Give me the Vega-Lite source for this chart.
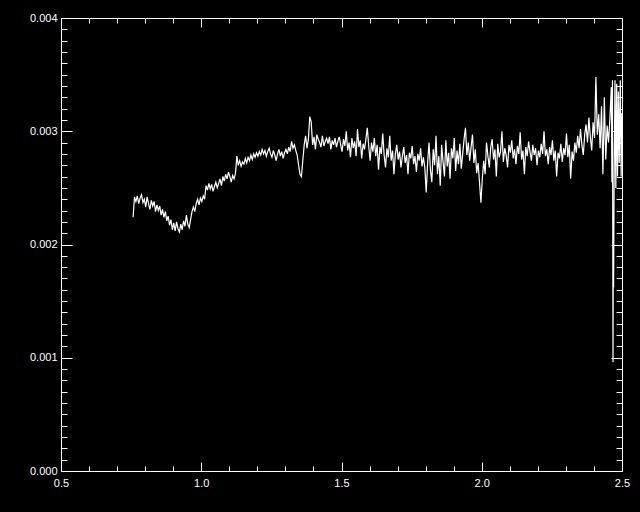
{
  "$schema": "https://vega.github.io/schema/vega-lite/v6.json",
  "width": 561,
  "height": 453,
  "autosize": "none",
  "padding": {"left": 61, "top": 18, "right": 18, "bottom": 41},
  "background": "black",
  "config": {
    "view": {"stroke": "white", "strokeWidth": 1},
    "axis": {"grid": false, "domain": false, "tickColor": "white", "labelColor": "white", "labelFont": "Liberation Sans", "labelFontSize": 11, "tickWidth": 1}
  },
  "data": {"values": [
{"x":0.757,"y":0.00224},{"x":0.762,"y":0.00242},{"x":0.767,"y":0.00238},{"x":0.772,"y":0.00243},{"x":0.777,"y":0.00236},{"x":0.782,"y":0.00241},{"x":0.787,"y":0.00244},{"x":0.792,"y":0.00237},{"x":0.797,"y":0.00240},{"x":0.802,"y":0.00233},
{"x":0.807,"y":0.00242},{"x":0.812,"y":0.00236},{"x":0.817,"y":0.00231},{"x":0.822,"y":0.00239},{"x":0.827,"y":0.00234},{"x":0.832,"y":0.00238},{"x":0.837,"y":0.00229},{"x":0.842,"y":0.00235},{"x":0.847,"y":0.00230},{"x":0.852,"y":0.00234},
{"x":0.857,"y":0.00226},{"x":0.862,"y":0.00231},{"x":0.867,"y":0.00224},{"x":0.872,"y":0.00229},{"x":0.877,"y":0.00221},{"x":0.882,"y":0.00225},{"x":0.887,"y":0.00217},{"x":0.892,"y":0.00222},{"x":0.897,"y":0.00213},{"x":0.902,"y":0.00219},
{"x":0.907,"y":0.00212},{"x":0.912,"y":0.00220},{"x":0.917,"y":0.00214},{"x":0.922,"y":0.00211},{"x":0.927,"y":0.00218},{"x":0.932,"y":0.00213},{"x":0.937,"y":0.00221},{"x":0.942,"y":0.00216},{"x":0.947,"y":0.00226},{"x":0.952,"y":0.00218},
{"x":0.957,"y":0.00215},{"x":0.962,"y":0.00222},{"x":0.967,"y":0.00229},{"x":0.972,"y":0.00233},{"x":0.977,"y":0.00229},{"x":0.982,"y":0.00236},{"x":0.987,"y":0.00240},{"x":0.992,"y":0.00235},{"x":0.997,"y":0.00241},{"x":1.002,"y":0.00238},
{"x":1.007,"y":0.00243},{"x":1.012,"y":0.00240},{"x":1.017,"y":0.00252},{"x":1.022,"y":0.00248},{"x":1.027,"y":0.00254},{"x":1.032,"y":0.00249},{"x":1.037,"y":0.00253},{"x":1.042,"y":0.00247},{"x":1.047,"y":0.00251},{"x":1.052,"y":0.00255},
{"x":1.057,"y":0.00250},{"x":1.062,"y":0.00254},{"x":1.067,"y":0.00258},{"x":1.072,"y":0.00252},{"x":1.077,"y":0.00260},{"x":1.082,"y":0.00256},{"x":1.087,"y":0.00262},{"x":1.092,"y":0.00258},{"x":1.097,"y":0.00264},{"x":1.102,"y":0.00260},
{"x":1.107,"y":0.00255},{"x":1.112,"y":0.00261},{"x":1.117,"y":0.00258},{"x":1.122,"y":0.00263},{"x":1.127,"y":0.00278},{"x":1.132,"y":0.00270},{"x":1.137,"y":0.00274},{"x":1.142,"y":0.00269},{"x":1.147,"y":0.00273},{"x":1.152,"y":0.00271},
{"x":1.157,"y":0.00276},{"x":1.162,"y":0.00272},{"x":1.167,"y":0.00277},{"x":1.172,"y":0.00274},{"x":1.177,"y":0.00279},{"x":1.182,"y":0.00275},{"x":1.187,"y":0.00280},{"x":1.192,"y":0.00277},{"x":1.197,"y":0.00281},{"x":1.202,"y":0.00278},
{"x":1.207,"y":0.00282},{"x":1.212,"y":0.00279},{"x":1.217,"y":0.00284},{"x":1.222,"y":0.00280},{"x":1.227,"y":0.00283},{"x":1.232,"y":0.00278},{"x":1.237,"y":0.00282},{"x":1.242,"y":0.00285},{"x":1.247,"y":0.00280},{"x":1.252,"y":0.00277},
{"x":1.257,"y":0.00283},{"x":1.262,"y":0.00279},{"x":1.267,"y":0.00274},{"x":1.272,"y":0.00280},{"x":1.277,"y":0.00284},{"x":1.282,"y":0.00278},{"x":1.287,"y":0.00282},{"x":1.292,"y":0.00276},{"x":1.297,"y":0.00281},{"x":1.302,"y":0.00284},
{"x":1.307,"y":0.00280},{"x":1.312,"y":0.00286},{"x":1.317,"y":0.00282},{"x":1.322,"y":0.00291},{"x":1.327,"y":0.00285},{"x":1.332,"y":0.00288},{"x":1.337,"y":0.00283},{"x":1.342,"y":0.00279},{"x":1.347,"y":0.00270},{"x":1.352,"y":0.00262},
{"x":1.357,"y":0.00260},{"x":1.362,"y":0.00274},{"x":1.367,"y":0.00288},{"x":1.372,"y":0.00296},{"x":1.377,"y":0.00285},{"x":1.382,"y":0.00293},{"x":1.387,"y":0.00313},{"x":1.392,"y":0.00308},{"x":1.397,"y":0.00288},{"x":1.402,"y":0.00295},
{"x":1.407,"y":0.00284},{"x":1.412,"y":0.00297},{"x":1.417,"y":0.00293},{"x":1.422,"y":0.00290},{"x":1.427,"y":0.00286},{"x":1.432,"y":0.00296},{"x":1.437,"y":0.00287},{"x":1.442,"y":0.00291},{"x":1.447,"y":0.00294},{"x":1.452,"y":0.00289},
{"x":1.457,"y":0.00295},{"x":1.462,"y":0.00284},{"x":1.467,"y":0.00292},{"x":1.472,"y":0.00288},{"x":1.477,"y":0.00294},{"x":1.482,"y":0.00286},{"x":1.487,"y":0.00291},{"x":1.492,"y":0.00295},{"x":1.497,"y":0.00288},{"x":1.502,"y":0.00282},
{"x":1.507,"y":0.00293},{"x":1.512,"y":0.00287},{"x":1.517,"y":0.00300},{"x":1.522,"y":0.00283},{"x":1.527,"y":0.00290},{"x":1.532,"y":0.00277},{"x":1.537,"y":0.00294},{"x":1.542,"y":0.00285},{"x":1.547,"y":0.00291},{"x":1.552,"y":0.00278},
{"x":1.557,"y":0.00302},{"x":1.562,"y":0.00286},{"x":1.567,"y":0.00292},{"x":1.572,"y":0.00276},{"x":1.577,"y":0.00289},{"x":1.582,"y":0.00284},{"x":1.587,"y":0.00293},{"x":1.592,"y":0.00303},{"x":1.597,"y":0.00287},{"x":1.602,"y":0.00274},
{"x":1.607,"y":0.00290},{"x":1.612,"y":0.00282},{"x":1.617,"y":0.00294},{"x":1.622,"y":0.00278},{"x":1.627,"y":0.00288},{"x":1.632,"y":0.00266},{"x":1.637,"y":0.00286},{"x":1.642,"y":0.00280},{"x":1.647,"y":0.00298},{"x":1.652,"y":0.00279},
{"x":1.657,"y":0.00268},{"x":1.662,"y":0.00285},{"x":1.667,"y":0.00277},{"x":1.672,"y":0.00296},{"x":1.677,"y":0.00274},{"x":1.682,"y":0.00283},{"x":1.687,"y":0.00262},{"x":1.692,"y":0.00280},{"x":1.697,"y":0.00288},{"x":1.702,"y":0.00275},
{"x":1.707,"y":0.00282},{"x":1.712,"y":0.00268},{"x":1.717,"y":0.00278},{"x":1.722,"y":0.00286},{"x":1.727,"y":0.00272},{"x":1.732,"y":0.00279},{"x":1.737,"y":0.00262},{"x":1.742,"y":0.00281},{"x":1.747,"y":0.00276},{"x":1.752,"y":0.00287},
{"x":1.757,"y":0.00271},{"x":1.762,"y":0.00278},{"x":1.767,"y":0.00264},{"x":1.772,"y":0.00280},{"x":1.777,"y":0.00274},{"x":1.782,"y":0.00285},{"x":1.787,"y":0.00269},{"x":1.792,"y":0.00277},{"x":1.797,"y":0.00268},{"x":1.802,"y":0.00246},
{"x":1.807,"y":0.00272},{"x":1.812,"y":0.00290},{"x":1.817,"y":0.00266},{"x":1.822,"y":0.00255},{"x":1.827,"y":0.00284},{"x":1.832,"y":0.00270},{"x":1.837,"y":0.00296},{"x":1.842,"y":0.00262},{"x":1.847,"y":0.00278},{"x":1.852,"y":0.00252},
{"x":1.857,"y":0.00288},{"x":1.862,"y":0.00273},{"x":1.867,"y":0.00260},{"x":1.872,"y":0.00292},{"x":1.877,"y":0.00269},{"x":1.882,"y":0.00281},{"x":1.887,"y":0.00258},{"x":1.892,"y":0.00285},{"x":1.897,"y":0.00276},{"x":1.902,"y":0.00294},
{"x":1.907,"y":0.00265},{"x":1.912,"y":0.00283},{"x":1.917,"y":0.00271},{"x":1.922,"y":0.00289},{"x":1.927,"y":0.00267},{"x":1.932,"y":0.00280},{"x":1.937,"y":0.00293},{"x":1.942,"y":0.00303},{"x":1.947,"y":0.00279},{"x":1.952,"y":0.00290},
{"x":1.957,"y":0.00274},{"x":1.962,"y":0.00286},{"x":1.967,"y":0.00297},{"x":1.972,"y":0.00272},{"x":1.977,"y":0.00284},{"x":1.982,"y":0.00263},{"x":1.987,"y":0.00272},{"x":1.992,"y":0.00255},{"x":1.997,"y":0.00237},{"x":2.002,"y":0.00258},
{"x":2.007,"y":0.00274},{"x":2.012,"y":0.00262},{"x":2.017,"y":0.00290},{"x":2.022,"y":0.00278},{"x":2.027,"y":0.00268},{"x":2.032,"y":0.00286},{"x":2.037,"y":0.00293},{"x":2.042,"y":0.00275},{"x":2.047,"y":0.00284},{"x":2.052,"y":0.00260},
{"x":2.057,"y":0.00289},{"x":2.062,"y":0.00277},{"x":2.067,"y":0.00282},{"x":2.072,"y":0.00300},{"x":2.077,"y":0.00273},{"x":2.082,"y":0.00285},{"x":2.087,"y":0.00279},{"x":2.092,"y":0.00268},{"x":2.097,"y":0.00288},{"x":2.102,"y":0.00281},
{"x":2.107,"y":0.00292},{"x":2.112,"y":0.00276},{"x":2.117,"y":0.00284},{"x":2.122,"y":0.00271},{"x":2.127,"y":0.00287},{"x":2.132,"y":0.00280},{"x":2.137,"y":0.00299},{"x":2.142,"y":0.00275},{"x":2.147,"y":0.00283},{"x":2.152,"y":0.00262},
{"x":2.157,"y":0.00286},{"x":2.162,"y":0.00278},{"x":2.167,"y":0.00291},{"x":2.172,"y":0.00282},{"x":2.177,"y":0.00274},{"x":2.182,"y":0.00288},{"x":2.187,"y":0.00279},{"x":2.192,"y":0.00285},{"x":2.197,"y":0.00270},{"x":2.202,"y":0.00283},
{"x":2.207,"y":0.00277},{"x":2.212,"y":0.00289},{"x":2.217,"y":0.00280},{"x":2.222,"y":0.00300},{"x":2.227,"y":0.00278},{"x":2.232,"y":0.00284},{"x":2.237,"y":0.00271},{"x":2.242,"y":0.00286},{"x":2.247,"y":0.00279},{"x":2.252,"y":0.00292},
{"x":2.257,"y":0.00274},{"x":2.262,"y":0.00283},{"x":2.267,"y":0.00260},{"x":2.272,"y":0.00281},{"x":2.277,"y":0.00276},{"x":2.282,"y":0.00289},{"x":2.287,"y":0.00273},{"x":2.292,"y":0.00285},{"x":2.297,"y":0.00279},{"x":2.302,"y":0.00298},
{"x":2.307,"y":0.00277},{"x":2.312,"y":0.00288},{"x":2.317,"y":0.00258},{"x":2.322,"y":0.00282},{"x":2.327,"y":0.00274},{"x":2.332,"y":0.00290},{"x":2.337,"y":0.00281},{"x":2.342,"y":0.00296},{"x":2.347,"y":0.00285},{"x":2.352,"y":0.00302},
{"x":2.357,"y":0.00288},{"x":2.362,"y":0.00279},{"x":2.367,"y":0.00297},{"x":2.372,"y":0.00306},{"x":2.377,"y":0.00290},{"x":2.382,"y":0.00312},{"x":2.387,"y":0.00295},{"x":2.392,"y":0.00283},{"x":2.397,"y":0.00308},{"x":2.402,"y":0.00294},
{"x":2.407,"y":0.00348},{"x":2.412,"y":0.00297},{"x":2.417,"y":0.00315},{"x":2.422,"y":0.00285},{"x":2.427,"y":0.00322},{"x":2.432,"y":0.00262},{"x":2.437,"y":0.00330},{"x":2.442,"y":0.00275},{"x":2.447,"y":0.00305},{"x":2.452,"y":0.00290},
{"x":2.457,"y":0.00312},{"x":2.462,"y":0.00339},{"x":2.464,"y":0.00255},{"x":2.466,"y":0.00345},{"x":2.468,"y":0.00096},{"x":2.469,"y":0.00200},{"x":2.470,"y":0.00162},{"x":2.472,"y":0.00260},{"x":2.475,"y":0.00345},{"x":2.478,"y":0.00250},
{"x":2.481,"y":0.00342},{"x":2.484,"y":0.00260},{"x":2.487,"y":0.00335},{"x":2.490,"y":0.00272},{"x":2.494,"y":0.00345},{"x":2.497,"y":0.00260},{"x":2.499,"y":0.00316}
  ]},
  "resolve": {"axis": {"x": "independent", "y": "independent"}},
  "layer": [
    {
      "mark": {"type": "line", "color": "white", "strokeWidth": 1.2},
      "encoding": {
        "x": {"field": "x", "type": "quantitative", "title": null,
              "scale": {"domain": [0.5, 2.5], "nice": false, "zero": false},
              "axis": {"orient": "bottom", "values": [0.5, 1.0, 1.5, 2.0, 2.5], "format": ".1f", "tickSize": -9, "labelPadding": 15, "labelFlush": false, "labelOverlap": false}},
        "y": {"field": "y", "type": "quantitative", "title": null,
              "scale": {"domain": [0, 0.004], "nice": false, "zero": false},
              "axis": {"orient": "left", "values": [0, 0.001, 0.002, 0.003, 0.004], "format": ".3f", "tickSize": -11, "labelPadding": 15, "labelFlush": false, "labelOverlap": false}}
      }
    },
    {
      "mark": {"type": "line", "opacity": 0},
      "encoding": {
        "x": {"field": "x", "type": "quantitative", "title": null,
              "axis": {"orient": "bottom", "values": [0.6,0.7,0.8,0.9,1.1,1.2,1.3,1.4,1.6,1.7,1.8,1.9,2.1,2.2,2.3,2.4], "labels": false, "tickSize": -5}},
        "y": {"field": "y", "type": "quantitative", "title": null,
              "axis": {"orient": "left", "values": [0.0001,0.0002,0.0003,0.0004,0.0005,0.0006,0.0007,0.0008,0.0009,0.0011,0.0012,0.0013,0.0014,0.0015,0.0016,0.0017,0.0018,0.0019,0.0021,0.0022,0.0023,0.0024,0.0025,0.0026,0.0027,0.0028,0.0029,0.0031,0.0032,0.0033,0.0034,0.0035,0.0036,0.0037,0.0038,0.0039], "labels": false, "tickSize": -6}}
      }
    },
    {
      "mark": {"type": "line", "opacity": 0},
      "encoding": {
        "x": {"field": "x", "type": "quantitative", "title": null,
              "axis": {"orient": "top", "values": [0.5, 1.0, 1.5, 2.0, 2.5], "labels": false, "tickSize": -9}},
        "y": {"field": "y", "type": "quantitative", "title": null,
              "axis": {"orient": "right", "values": [0, 0.001, 0.002, 0.003, 0.004], "labels": false, "tickSize": -11}}
      }
    },
    {
      "mark": {"type": "line", "opacity": 0},
      "encoding": {
        "x": {"field": "x", "type": "quantitative", "title": null,
              "axis": {"orient": "top", "values": [0.6,0.7,0.8,0.9,1.1,1.2,1.3,1.4,1.6,1.7,1.8,1.9,2.1,2.2,2.3,2.4], "labels": false, "tickSize": -5}},
        "y": {"field": "y", "type": "quantitative", "title": null,
              "axis": {"orient": "right", "values": [0.0001,0.0002,0.0003,0.0004,0.0005,0.0006,0.0007,0.0008,0.0009,0.0011,0.0012,0.0013,0.0014,0.0015,0.0016,0.0017,0.0018,0.0019,0.0021,0.0022,0.0023,0.0024,0.0025,0.0026,0.0027,0.0028,0.0029,0.0031,0.0032,0.0033,0.0034,0.0035,0.0036,0.0037,0.0038,0.0039], "labels": false, "tickSize": -6}}
      }
    }
  ]
}
